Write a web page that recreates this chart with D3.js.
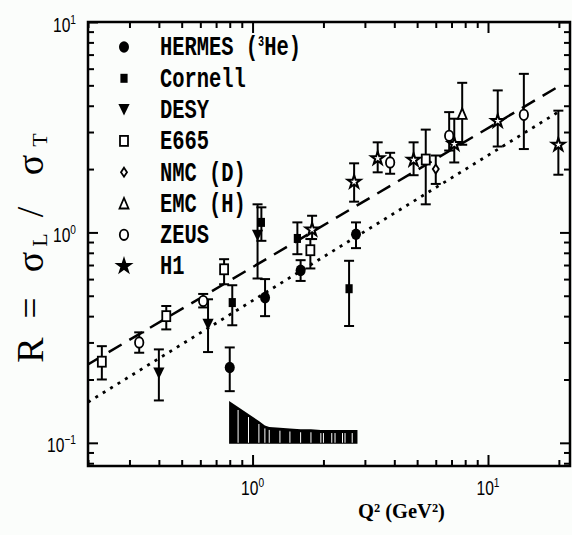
<html>
<head>
<meta charset="utf-8"/>
<style>
  body { margin: 0; background: #fbfdfb; }
  svg { display: block; }
</style>
</head>
<body>
<svg></svg>
<script src="https://d3js.org/d3.v7.min.js"></script>
<script>
// values: Q2 (GeV2), R, lower and upper end of error bar
var hermes = [
  {q: 0.80, r: 0.228, lo: 0.176, hi: 0.284},
  {q: 1.13, r: 0.49, lo: 0.40, hi: 0.60},
  {q: 1.60, r: 0.66, lo: 0.588, hi: 0.738},
  {q: 2.75, r: 0.98, lo: 0.842, hi: 1.116}
];
var cornell = [
  {q: 0.82, r: 0.464, lo: 0.362, hi: 0.561},
  {q: 1.09, r: 1.116, lo: 0.912, hi: 1.316},
  {q: 1.55, r: 0.936, lo: 0.788, hi: 1.116},
  {q: 2.57, r: 0.54, lo: 0.359, hi: 0.733}
];
var desy = [
  {q: 0.40, r: 0.215, lo: 0.159, hi: 0.278},
  {q: 0.647, r: 0.366, lo: 0.27, hi: 0.481},
  {q: 1.05, r: 0.97, lo: 0.604, hi: 1.36}
];
var e665 = [
  {q: 0.229, r: 0.243, lo: 0.20, hi: 0.288},
  {q: 0.43, r: 0.40, lo: 0.346, hi: 0.447},
  {q: 0.757, r: 0.668, lo: 0.567, hi: 0.746},
  {q: 1.76, r: 0.823, lo: 0.674, hi: 0.93},
  {q: 5.44, r: 2.22, lo: 1.36, hi: 3.08}
];
var nmc = [
  {q: 6.0, r: 2.0, lo: 1.70, hi: 2.32}
];
var emc = [
  {q: 7.77, r: 3.66, lo: 2.61, hi: 5.14}
];
var zeus = [
  {q: 0.33, r: 0.30, lo: 0.268, hi: 0.335},
  {q: 0.617, r: 0.472, lo: 0.44, hi: 0.51},
  {q: 3.84, r: 2.15, lo: 1.90, hi: 2.39},
  {q: 6.84, r: 2.88, lo: 2.45, hi: 3.73},
  {q: 14.2, r: 3.62, lo: 2.49, hi: 5.67}
];
var h1 = [
  {q: 1.79, r: 1.03, lo: 0.93, hi: 1.20},
  {q: 2.70, r: 1.74, lo: 1.40, hi: 2.13},
  {q: 3.40, r: 2.25, lo: 1.93, hi: 2.68},
  {q: 4.83, r: 2.21, lo: 1.87, hi: 2.68},
  {q: 7.19, r: 2.63, lo: 2.15, hi: 3.47},
  {q: 11.0, r: 3.38, lo: 2.56, hi: 4.73},
  {q: 19.9, r: 2.61, lo: 1.88, hi: 3.79}
];

var seriesNames = ["HERMES", "Cornell", "DESY", "E665", "NMC (D)", "EMC (H)", "ZEUS", "H1"];

// the two fit lines (end points)
var dashedFit = [[0.2, 0.236], [20, 4.95]];
var dottedFit = [[0.2, 0.156], [20, 3.75]];

// systematic band at the bottom
var bandQ = [0.795, 0.868, 0.961, 1.064, 1.128, 1.177, 1.307, 1.441, 1.60, 1.77, 1.95, 2.0, 2.17, 2.24, 2.41, 2.47, 2.65, 2.79];
var bandTop = [0.158, 0.148, 0.137, 0.127, 0.121, 0.119, 0.118, 0.117, 0.116, 0.116, 0.115, 0.115, 0.115, 0.115, 0.115, 0.115, 0.115, 0.115];
var bandBase = 0.099;

var xMajor = [1, 10];
var xMinor = [0.2, 0.3, 0.4, 0.5, 0.6, 0.7, 0.8, 0.9, 2, 3, 4, 5, 6, 7, 8, 9, 20];
var yMajor = [0.1, 1, 10];
var yMinor = [0.08, 0.09, 0.2, 0.3, 0.4, 0.5, 0.6, 0.7, 0.8, 0.9, 2, 3, 4, 5, 6, 7, 8, 9];

var W = 572, H = 535;
var box = {left: 88, right: 570, top: 22, bottom: 466};

var svg = d3.select("svg").attr("width", W).attr("height", H);

var x = d3.scaleLog().domain([0.2, 22.3]).range([box.left, box.right]);
var y = d3.scaleLog().domain([0.0776, 10]).range([box.bottom, box.top]);

svg.append("clipPath").attr("id", "clip")
  .append("rect")
  .attr("x", box.left).attr("y", box.top)
  .attr("width", box.right - box.left).attr("height", box.bottom - box.top);

var chart = svg.append("g").attr("clip-path", "url(#clip)");

// band
var bandData = bandQ.map(function(q, i) { return {q: q, t: bandTop[i]}; });
chart.append("path")
  .datum(bandData)
  .attr("fill", "#000")
  .attr("d", d3.area()
    .x(function(d) { return x(d.q); })
    .y0(y(bandBase))
    .y1(function(d) { return y(d.t); }));

chart.selectAll(".gap")
  .data(bandData.slice(1, -1))
  .enter().append("line")
  .attr("x1", function(d) { return x(d.q); })
  .attr("x2", function(d) { return x(d.q); })
  .attr("y1", function(d) { return y(d.t) + 3; })
  .attr("y2", y(bandBase) - 1)
  .attr("stroke", "#fff")
  .attr("stroke-width", 1);

// fit lines
var line = d3.line()
  .x(function(d) { return x(d[0]); })
  .y(function(d) { return y(d[1]); });

chart.append("path").datum(dashedFit)
  .attr("d", line).attr("fill", "none")
  .attr("stroke", "#000").attr("stroke-width", 2.5)
  .attr("stroke-dasharray", "15,9");

chart.append("path").datum(dottedFit)
  .attr("d", line).attr("fill", "none")
  .attr("stroke", "#000").attr("stroke-width", 2.8)
  .attr("stroke-dasharray", "3,5.7");

// markers
function marker(g, kind, cx, cy, solidStar) {
  var m;
  if (kind == "HERMES") {
    m = g.append("ellipse").attr("cx", cx).attr("cy", cy).attr("rx", 5).attr("ry", 5.8).attr("fill", "#000");
  } else if (kind == "Cornell") {
    m = g.append("rect").attr("x", cx - 3.6).attr("y", cy - 4.5).attr("width", 7.2).attr("height", 9).attr("fill", "#000");
  } else if (kind == "DESY") {
    m = g.append("path").attr("transform", "translate(" + cx + "," + cy + ")")
      .attr("d", "M-5.6,-5.5L5.6,-5.5L0,6Z").attr("fill", "#000");
  } else if (kind == "E665") {
    m = g.append("rect").attr("x", cx - 4).attr("y", cy - 5).attr("width", 8).attr("height", 10)
      .attr("fill", "#fff").attr("stroke", "#000").attr("stroke-width", 1.8);
  } else if (kind == "NMC (D)") {
    m = g.append("path").attr("transform", "translate(" + cx + "," + cy + ")")
      .attr("d", "M0,-4.5L3,0L0,4.5L-3,0Z")
      .attr("fill", "#fff").attr("stroke", "#000").attr("stroke-width", 1.8);
  } else if (kind == "EMC (H)") {
    m = g.append("path").attr("transform", "translate(" + cx + "," + cy + ")")
      .attr("d", "M-4.5,5L4.5,5L0,-5.5Z")
      .attr("fill", "#fff").attr("stroke", "#000").attr("stroke-width", 1.8);
  } else if (kind == "ZEUS") {
    m = g.append("ellipse").attr("cx", cx).attr("cy", cy).attr("rx", 4.2).attr("ry", 5.2)
      .attr("fill", "#fff").attr("stroke", "#000").attr("stroke-width", 1.8);
  } else {
    m = g.append("path").attr("transform", "translate(" + cx + "," + cy + ")")
      .attr("d", d3.symbol(d3.symbolStar, 52)())
      .attr("fill", solidStar ? "#000" : "#fff").attr("stroke", "#000").attr("stroke-width", 2);
  }
  return m;
}

var allSeries = [hermes, cornell, desy, e665, nmc, emc, zeus, h1];

allSeries.forEach(function(data, k) {
  var g = chart.append("g");
  data.forEach(function(d) {
    var px = x(d.q);
    g.append("line").attr("x1", px).attr("x2", px)
      .attr("y1", y(d.lo)).attr("y2", y(d.hi))
      .attr("stroke", "#000").attr("stroke-width", 2);
    [d.lo, d.hi].forEach(function(v) {
      g.append("line").attr("x1", px - 5).attr("x2", px + 5)
        .attr("y1", y(v)).attr("y2", y(v))
        .attr("stroke", "#000").attr("stroke-width", 2);
    });
  });
  data.forEach(function(d) {
    marker(g, seriesNames[k], x(d.q), y(d.r), false);
  });
});

// axes, ticks pointing inside on all four sides
function ticks(axis, tx, ty) {
  var g = svg.append("g").attr("transform", "translate(" + tx + "," + ty + ")").call(axis);
  g.select(".domain").remove();
  g.selectAll("line").attr("stroke-width", 2);
  g.selectAll("text").remove();
}
ticks(d3.axisBottom(x).tickValues(xMinor).tickSize(-6), 0, box.bottom);
ticks(d3.axisBottom(x).tickValues(xMajor).tickSize(-11), 0, box.bottom);
ticks(d3.axisTop(x).tickValues(xMinor).tickSize(-6), 0, box.top);
ticks(d3.axisTop(x).tickValues(xMajor).tickSize(-11), 0, box.top);
ticks(d3.axisLeft(y).tickValues(yMinor).tickSize(-6), box.left, 0);
ticks(d3.axisLeft(y).tickValues(yMajor).tickSize(-10), box.left, 0);
ticks(d3.axisRight(y).tickValues(yMinor).tickSize(-6), box.right, 0);
ticks(d3.axisRight(y).tickValues(yMajor).tickSize(-10), box.right, 0);

svg.append("rect")
  .attr("x", box.left).attr("y", box.top)
  .attr("width", box.right - box.left).attr("height", box.bottom - box.top)
  .attr("fill", "none").attr("stroke", "#000").attr("stroke-width", 2.5);

// power-of-ten tick labels
function powLabel(px, py, anchor, v) {
  var t = svg.append("text")
    .attr("transform", "translate(" + px + "," + py + ") scale(0.78,1)")
    .attr("text-anchor", anchor)
    .style("font-family", "Liberation Sans, Arial, sans-serif")
    .style("font-size", "20px");
  t.append("tspan").text("10");
  t.append("tspan").attr("dy", -8).style("font-size", "13px")
    .text(String(Math.round(Math.log10(v))).replace("-", "\u2212"));
}
xMajor.forEach(function(v) { powLabel(x(v), 495, "middle", v); });
yMajor.forEach(function(v) { powLabel(76, y(v) + 9.5, "end", v); });

// legend
var legend = svg.append("g");
seriesNames.forEach(function(name, i) {
  var cy = 47 + i * 31.3;
  marker(legend, name, 124, cy, true);
  var t = legend.append("text")
    .attr("transform", "translate(160," + (cy + 8.3) + ") scale(0.73,1)")
    .style("font-family", "Liberation Mono, Courier New, monospace")
    .style("font-weight", "bold")
    .style("font-size", "28px");
  if (name == "HERMES") {
    t.append("tspan").text("HERMES (");
    t.append("tspan").attr("dy", -9).style("font-size", "14px").text("3");
    t.append("tspan").attr("dy", 9).text("He)");
  } else {
    t.text(name);
  }
});

// axis titles
svg.append("text")
  .attr("x", 358).attr("y", 518)
  .style("font-family", "Liberation Serif, Times New Roman, serif")
  .style("font-weight", "bold")
  .style("font-size", "20.5px")
  .text("Q\u00b2 (GeV\u00b2)");

var ylab = svg.append("text")
  .attr("transform", "translate(43,0) rotate(-90)")
  .attr("text-anchor", "middle")
  .style("font-family", "Liberation Serif, Times New Roman, serif")
  .style("font-size", "38px");
ylab.append("tspan").attr("x", -350).attr("y", 0).text("R");
ylab.append("tspan").attr("x", -308).attr("y", 0).text("=");
ylab.append("tspan").attr("x", -262).attr("y", 0).text("\u03c3");
ylab.append("tspan").attr("x", -240).attr("y", 4).style("font-size", "22px").text("L");
ylab.append("tspan").attr("x", -212).attr("y", 0).text("/");
ylab.append("tspan").attr("x", -165).attr("y", 0).text("\u03c3");
ylab.append("tspan").attr("x", -140).attr("y", 4).style("font-size", "22px").text("T");
</script>
</body>
</html>
